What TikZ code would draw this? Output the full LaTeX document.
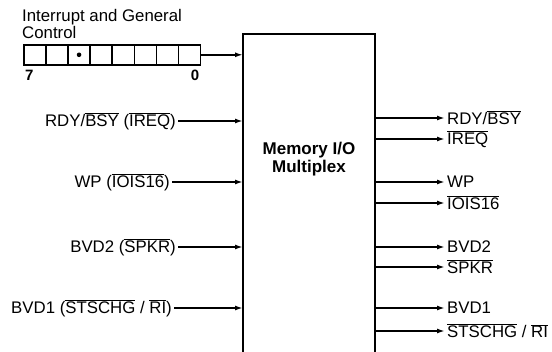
\documentclass[tikz,border=0pt]{standalone}
\usepackage{fontspec}
\setmainfont{Liberation Sans}
\usetikzlibrary{arrows.meta,positioning}
\newcommand{\nbar}[1]{\ensuremath{\overline{\mbox{#1}}}}

\begin{document}
\begin{tikzpicture}[x=1pt,y=-1pt,
    sig/.style={inner sep=2pt, font=\fontsize{16.8}{17.5}\selectfont},
    cell/.style={draw, line width=1.6pt, minimum width=22.1pt, minimum height=20pt, inner sep=0pt, anchor=north west},
    arr/.style={-{Latex[length=8pt,width=5pt]}, line width=2pt}
]
\useasboundingbox (0,0) rectangle (552,352);
% multiplexer block, open at the bottom
\node[minimum width=132pt, minimum height=318pt, inner sep=0pt, anchor=north west] (mux) at (243,34) {};
\draw[line width=2pt] (mux.south west) -- (mux.north west) -- (mux.north east) -- (mux.south east);
\node[font=\bfseries\fontsize{17}{18}\selectfont, align=center] (muxlbl) at (309,159) {Memory I/O\\Multiplex};

% control register
\node[sig, align=left, anchor=north west, inner sep=0pt] (ctl) at (22,9) {Interrupt and General\\Control};
\foreach \i [count=\k from 0] in {7,...,0}
  \node[cell] (r\i) at ({23+22.1*\k},44) {};
\fill (r5.center) circle (2.3pt);
\node[sig, font=\bfseries\fontsize{15}{16}\selectfont, anchor=north west] (b7) at ([yshift=-2pt]r7.south west) {7};
\node[sig, font=\bfseries\fontsize{15}{16}\selectfont, anchor=north east] (b0) at ([yshift=-2pt]r0.south east) {0};
\draw[arr] (r0.east) -- (mux.west |- r0.east);

% inputs
\node[sig, anchor=east] (inA) at (178,121) {RDY/\nbar{BSY} (\nbar{IREQ})};
\node[sig, anchor=east] (inB) at (172,182) {WP (\nbar{IOIS16})};
\node[sig, anchor=east] (inC) at (178,247) {BVD2 (\nbar{SPKR})};
\node[sig, anchor=east] (inD) at (174,308) {BVD1 (\nbar{STSCHG} / \nbar{RI})};
\foreach \n in {inA,inB,inC,inD}
  \draw[arr] (\n.east) -- (mux.west |- \n.east);

% outputs
\node[sig, anchor=west] (outA) at (445,118) {RDY/\nbar{BSY}};
\node[sig, anchor=west] (outB) at (445,139) {\nbar{IREQ}};
\node[sig, anchor=west] (outC) at (445,182) {WP};
\node[sig, anchor=west] (outD) at (445,203) {\nbar{IOIS16}};
\node[sig, anchor=west] (outE) at (445,247) {BVD2};
\node[sig, anchor=west] (outF) at (445,267) {\nbar{SPKR}};
\node[sig, anchor=west] (outG) at (445,308) {BVD1};
\node[sig, anchor=west] (outH) at (445,331) {\nbar{STSCHG} / \nbar{RI}};
\foreach \n in {outA,outB,outC,outD,outE,outF,outG,outH}
  \draw[arr] (mux.east |- \n.west) -- (\n.west);
\end{tikzpicture}
\end{document}
